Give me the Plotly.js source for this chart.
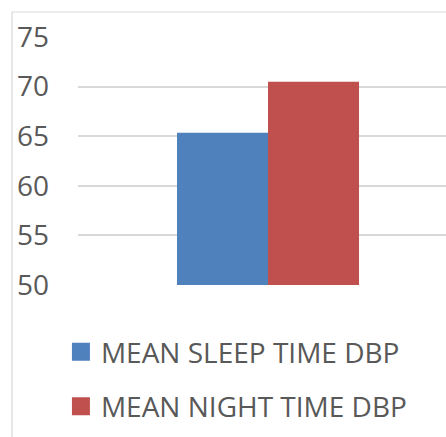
<!DOCTYPE html>
<html><head><meta charset="utf-8">
<script src="https://cdn.plot.ly/plotly-3.0.1.min.js"></script>
<style>html,body{margin:0;padding:0;background:#fff}#chart{width:446px;height:437px}</style>
</head><body><div id="chart"></div>
<script>
const categories = ['DBP'];
const seriesNames = ['MEAN SLEEP TIME DBP', 'MEAN NIGHT TIME DBP'];
const sleepValues = [65.35];
const nightValues = [70.5];
const yTicks = [50, 55, 60, 65, 70, 75];
const colors = ['#4f81bd', '#c0504d'];

const font = "'Open Sans', 'DejaVu Sans', sans-serif";
const data = [
  {type:'bar', x:categories, y:sleepValues, name:seriesNames[0], marker:{color:colors[0]}, showlegend:false, hoverinfo:'skip'},
  {type:'bar', x:categories, y:nightValues, name:seriesNames[1], marker:{color:colors[1]}, showlegend:false, hoverinfo:'skip'},
  {type:'scatter', mode:'markers', x:categories, y:[null], name:seriesNames[0], legendgroup:'a', showlegend:true,
   marker:{symbol:'square', size:16, color:colors[0], line:{color:colors[0], width:2}}},
  {type:'scatter', mode:'markers', x:categories, y:[null], name:seriesNames[1], legendgroup:'b', showlegend:true,
   marker:{symbol:'square', size:16, color:colors[1], line:{color:colors[1], width:2}}}
];
const layout = {
  width:446, height:437,
  margin:{l:78, r:0, t:37, b:152, autoexpand:false},
  paper_bgcolor:'#fff', plot_bgcolor:'#fff',
  barmode:'group', bargap:0.521, bargroupgap:0,
  font:{family:font, color:'#595959'},
  xaxis:{type:'category', range:[-0.5, 0.4684], showticklabels:false, showgrid:false, zeroline:false, showline:false, ticks:''},
  yaxis:{range:[50,75], tickvals:yTicks, ticktext:yTicks.map(String), showgrid:true, gridcolor:'#d9d9d9', gridwidth:2,
         zeroline:false, showline:false, ticks:'', ticklabelstandoff:28, tickfont:{size:28, color:'#595959', family:font}},
  showlegend:true,
  legend:{xref:'paper', yref:'paper', x:-0.0464, y:-0.17, xanchor:'left', yanchor:'top',
          traceorder:'grouped', tracegroupgap:15, font:{size:28, color:'#595959', family:font}, bgcolor:'rgba(0,0,0,0)'},
  shapes:[{type:'path', xref:'paper', yref:'paper', path:'M -0.1793,-0.62 L -0.1793,1.1008 L 1.05,1.1008',
           line:{color:'#d9d9d9', width:1.2}, layer:'below'}]
};
Plotly.newPlot('chart', data, layout, {displayModeBar:false, staticPlot:true});
</script></body></html>
